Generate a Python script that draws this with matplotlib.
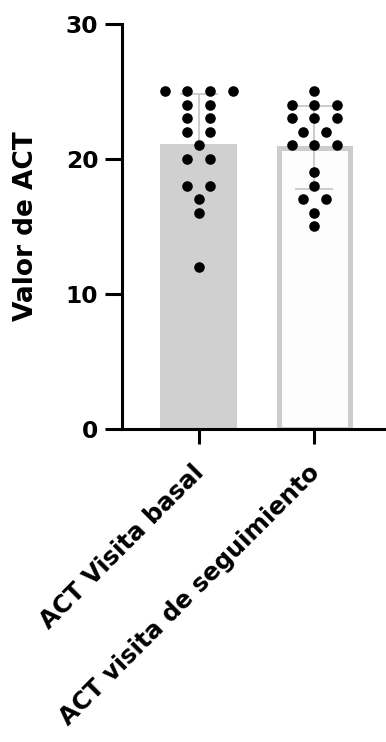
import numpy as np
import matplotlib
matplotlib.use("Agg")
import matplotlib.pyplot as plt
from matplotlib.transforms import ScaledTranslation

# valores de ACT por paciente
grupos = ["ACT Visita basal", "ACT visita de seguimiento"]
basal = [25, 25, 25, 25, 24, 24, 23, 23, 22, 22, 21, 20, 20, 18, 18, 17, 16, 12]
seguimiento = [25, 24, 24, 24, 23, 23, 23, 22, 22, 21, 21, 21, 19, 18, 17, 17, 16, 15]
yticks = [0, 10, 20, 30]

plt.rcParams['font.family'] = ['DejaVu Sans']
plt.rcParams['font.weight'] = 'bold'

fig = plt.figure(figsize=(3.86, 7.42), dpi=100)
ax = fig.add_axes([0.316, 0.4218, 0.684, 0.5459])

datos = [np.array(basal), np.array(seguimiento)]
medias = [d.mean() for d in datos]
sds = [d.std(ddof=1) for d in datos]

# barras: basal gris relleno, seguimiento blanco con borde gris
ax.bar(0, medias[0], width=0.666, color="#d0d0d0", edgecolor="none", zorder=2)
ax.bar(1, medias[1], width=0.61, color="#fdfdfd", edgecolor="#cccccc", linewidth=3.6, zorder=2)

# desviación estándar
ax.errorbar(0, medias[0], yerr=sds[0], color="#c8c8c8", elinewidth=1.3,
            capsize=13.5, capthick=1.3, zorder=1.5)
ax.errorbar(1, medias[1], yerr=sds[1], color="#c8c8c8", elinewidth=1.3,
            capsize=14, capthick=1.3, zorder=3)

# puntos individuales (tipo enjambre)
sep = 0.195
for i, d in enumerate(datos):
    for v in np.unique(d):
        n = int((d == v).sum())
        xs = i + (np.arange(n) - (n - 1) / 2) * sep
        ax.scatter(xs, [v] * n, s=58, color="black", zorder=4, linewidths=0)

ax.set_xlim(-0.664, 1.62)
ax.set_ylim(0, 30)
ax.set_yticks(yticks)
ax.set_xticks([0, 1])
ax.set_xticklabels(grupos, rotation=45, ha="right", rotation_mode="anchor",
                   fontsize=17.6, fontweight="bold")
ax.set_yticklabels([str(t) for t in yticks], fontsize=16.8, fontweight="bold")
ax.set_ylabel("Valor de ACT", fontsize=19, fontweight="bold", labelpad=19)

for s in ["top", "right"]:
    ax.spines[s].set_visible(False)
for s in ["left", "bottom"]:
    ax.spines[s].set_linewidth(2.2)
ax.tick_params(axis="y", direction="out", length=12, width=2.2, pad=5)
ax.tick_params(axis="x", direction="out", length=11, width=2.2, pad=6)

# mover las etiquetas del eje x un poco abajo a la izquierda
desp = ScaledTranslation(-7 / 100, -8 / 100, fig.dpi_scale_trans)
for lab in ax.get_xticklabels():
    lab.set_transform(lab.get_transform() + desp)

fig.savefig("out.png", dpi=100)
